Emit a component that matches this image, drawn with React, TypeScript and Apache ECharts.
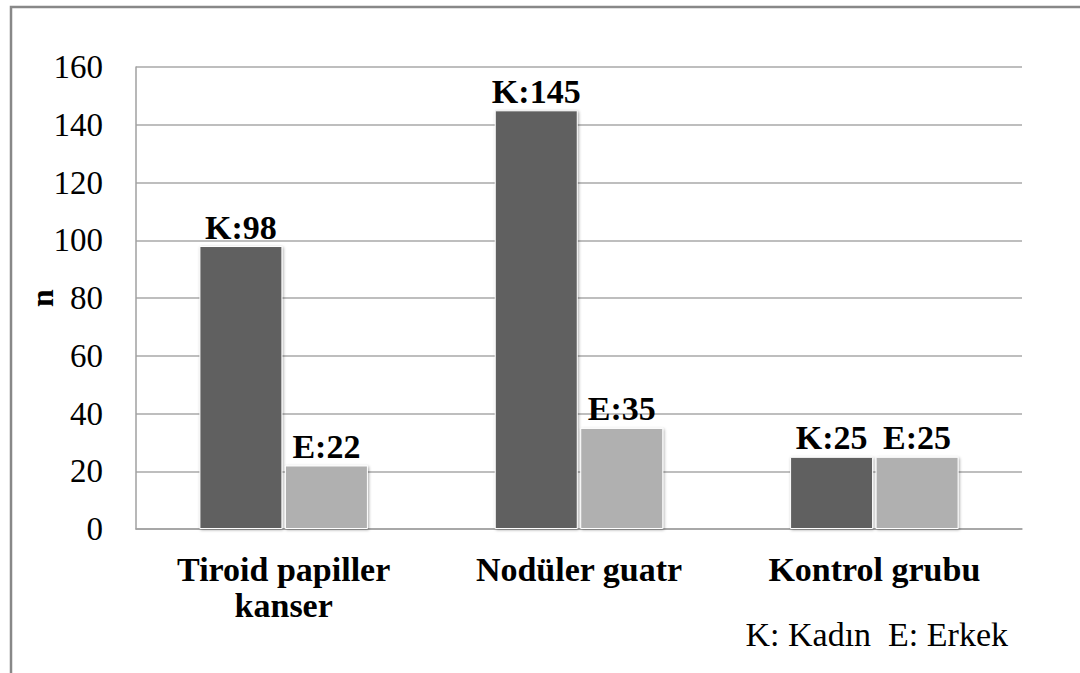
import React, { useEffect, useRef } from "react";
import * as echarts from "echarts";

const categories = ["Tiroid papiller\nkanser", "Nodüler guatr", "Kontrol grubu"];
const kadinValues = [98, 145, 25];
const erkekValues = [22, 35, 25];
const yTicks = { min: 0, max: 160, interval: 20 };
const footnote = "K: Kadın  E: Erkek";

const SERIF = "Liberation Serif";

export default function App() {
  const ref = useRef<HTMLDivElement>(null);

  useEffect(() => {
    if (!ref.current) return;
    const chart = echarts.init(ref.current, undefined, { renderer: "svg" });
    const barStyle = (color: string) => ({
      color,
      borderColor: "#ffffff",
      borderWidth: 1,
      shadowBlur: 3,
      shadowColor: "rgba(0,0,0,0.35)",
      shadowOffsetX: 1,
      shadowOffsetY: 1,
    });
    const labelStyle = (prefix: string) => ({
      show: true,
      position: "top" as const,
      distance: 2,
      formatter: (p: any) => `${prefix}:${p.value}`,
      fontFamily: SERIF,
      fontWeight: "bold" as const,
      fontSize: 34,
      color: "#000",
    });
    chart.setOption({
      animation: false,
      backgroundColor: "#ffffff",
      grid: { left: 136, top: 67, right: 58, bottom: 144, containLabel: false },
      xAxis: {
        type: "category",
        data: categories,
        axisLine: { show: true, lineStyle: { color: "#a0a0a0", width: 1.5 } },
        axisTick: { show: false },
        axisLabel: {
          fontFamily: SERIF,
          fontWeight: "bold",
          fontSize: 34,
          color: "#000",
          lineHeight: 36,
          margin: 22,
        },
      },
      yAxis: {
        type: "value",
        min: yTicks.min,
        max: yTicks.max,
        interval: yTicks.interval,
        name: "n",
        nameLocation: "middle",
        nameRotate: 90,
        nameGap: 78,
        nameMoveOverlap: false,
        nameTextStyle: { fontFamily: SERIF, fontWeight: "bold", fontSize: 32, color: "#000" },
        axisLine: { show: true, lineStyle: { color: "#a0a0a0", width: 1.5 } },
        axisTick: { show: false },
        splitLine: { show: true, lineStyle: { color: "#a8a8a8", width: 1.5 } },
        axisLabel: { fontFamily: SERIF, fontSize: 33, color: "#000", margin: 33 },
      },
      series: [
        {
          type: "bar",
          name: "Kadın",
          data: kadinValues,
          barWidth: 83,
          barGap: "3%",
          itemStyle: barStyle("#606060"),
          label: labelStyle("K"),
        },
        {
          type: "bar",
          name: "Erkek",
          data: erkekValues,
          barWidth: 83,
          itemStyle: barStyle("#b0b0b0"),
          label: labelStyle("E"),
        },
      ],
      graphic: [
        {
          type: "rect",
          shape: { x: 11, y: 7, width: 1200, height: 800 },
          style: { fill: "none", stroke: "#888888", lineWidth: 2.5 },
          silent: true,
        },
        {
          type: "text",
          x: 1008,
          y: 634,
          style: {
            text: footnote,
            fontFamily: SERIF,
            fontSize: 34,
            fill: "#000",
            textAlign: "right",
            textVerticalAlign: "middle",
          },
        },
      ],
    });
    return () => chart.dispose();
  }, []);

  return (
    <div
      ref={ref}
      style={{ position: "fixed", left: 0, top: 0, width: 1080, height: 673 }}
    />
  );
}
